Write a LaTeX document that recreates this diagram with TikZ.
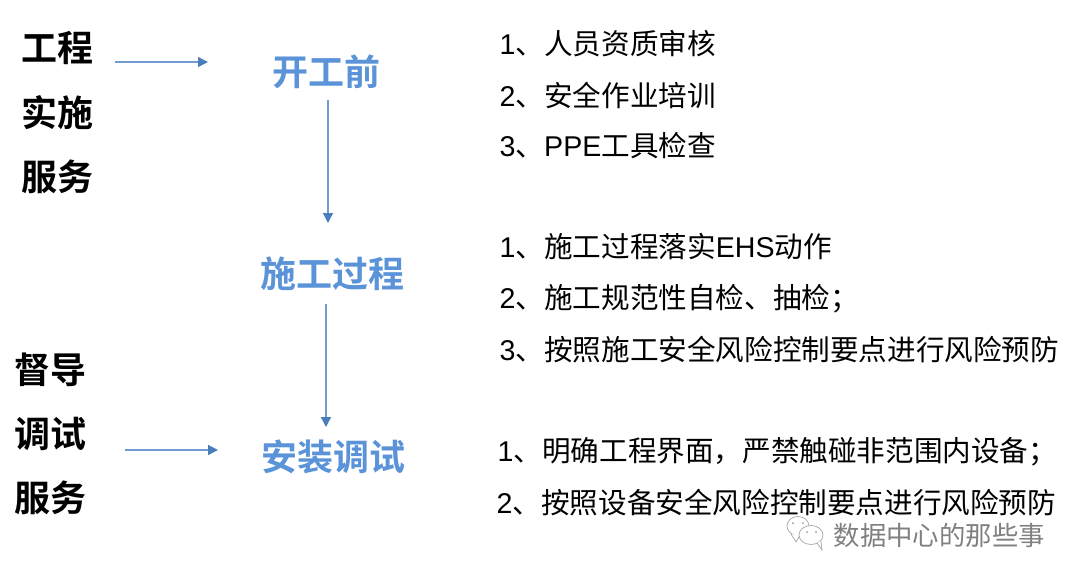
\documentclass[tikz,border=0pt]{standalone}
\usetikzlibrary{arrows.meta}
\usepackage{fontspec}
\setmainfont{Liberation Sans}
\newfontfamily\cjk{Noto Sans CJK SC}
\newfontfamily\cjkb{Noto Sans CJK SC Bold}
\newfontfamily\lat{Liberation Sans}
\newcommand{\La}[1]{{\lat #1}}
\definecolor{stagecol}{HTML}{5B93D9}
\definecolor{arrcol}{HTML}{6F9BD1}
\definecolor{tipcol}{HTML}{4A7EBB}
\begin{document}
\begin{tikzpicture}[x=1pt,y=-1pt,
 side/.style={font=\cjkb\fontsize{36}{36}\selectfont,anchor=center,inner sep=0,text=black},
 stage/.style={font=\cjkb\fontsize{36}{36}\selectfont,anchor=center,inner sep=0,text=stagecol},
 item/.style={font=\cjk\fontsize{28.6}{29}\selectfont,anchor=west,inner sep=0,text=black},
 arr/.style={draw=arrcol,line width=1.3pt,-{Triangle[length=10pt,width=10pt,color=tipcol]}},
 wmark/.style={draw=black!35,line width=0.7pt,fill=white}]
\useasboundingbox (0,0) rectangle (1080,582);
\node[side] (a1) at (57.5,48) {工程};
\node[side] (a2) at (57.5,113) {实施};
\node[side] (a3) at (57.5,177) {服务};
\node[side] (b1) at (50,369.5) {督导};
\node[side] (b2) at (50,433.5) {调试};
\node[side] (b3) at (50,497.5) {服务};
\node[stage] (s1) at (326.5,72) {开工前};
\node[stage] (s2) at (332,274) {施工过程};
\node[stage] (s3) at (333.5,457) {安装调试};
\coordinate (c1) at (115,62);\coordinate (c2) at (208,62);
\coordinate (c3) at (125,450);\coordinate (c4) at (218,450);
\draw[arr] (c1) -- (c2);
\draw[arr] (c3) -- (c4);
\coordinate (d1) at (328,100);\coordinate (d2) at (328,223);
\coordinate (d3) at (326,304);\coordinate (d4) at (326,427);
\draw[arr] (d1) -- (d2);
\draw[arr] (d3) -- (d4);
\node[item] (t1) at (499.5,44) {\La{1}、人员资质审核};
\node[item] (t2) at (499.5,95) {\La{2}、安全作业培训};
\node[item] (t3) at (499.5,146) {\La{3}、\La{PPE}工具检查};
\node[item] (t4) at (499.5,247) {\La{1}、施工过程落实\La{EHS}动作};
\node[item] (t5) at (499.5,298.5) {\La{2}、施工规范性自检、抽检；};
\node[item] (t6) at (499.5,349.5) {\La{3}、按照施工安全风险控制要点进行风险预防};
\node[item] (t7) at (497.5,451.5) {\La{1}、明确工程界面，严禁触碰非范围内设备；};
\node[item] (t8) at (496.5,502.5) {\La{2}、按照设备安全风险控制要点进行风险预防};
\node[font=\cjk\fontsize{26.4}{26.4}\selectfont,text=black!50,anchor=west,inner sep=0] (wm) at (833.5,535) {数据中心的那些事};
% WeChat mark
\draw[wmark] (798,526) ellipse (11 and 9.5);
\draw[wmark] (791,534) -- (796,542) -- (800,535);
\draw[wmark] (811,535) ellipse (12 and 9.5);
\draw[wmark] (817,543) -- (822,550) -- (821,541);
\fill[black!40] (793,523) circle (1) (803,523) circle (1) (807,532) circle (1) (816,532) circle (1);
\end{tikzpicture}
\end{document}
